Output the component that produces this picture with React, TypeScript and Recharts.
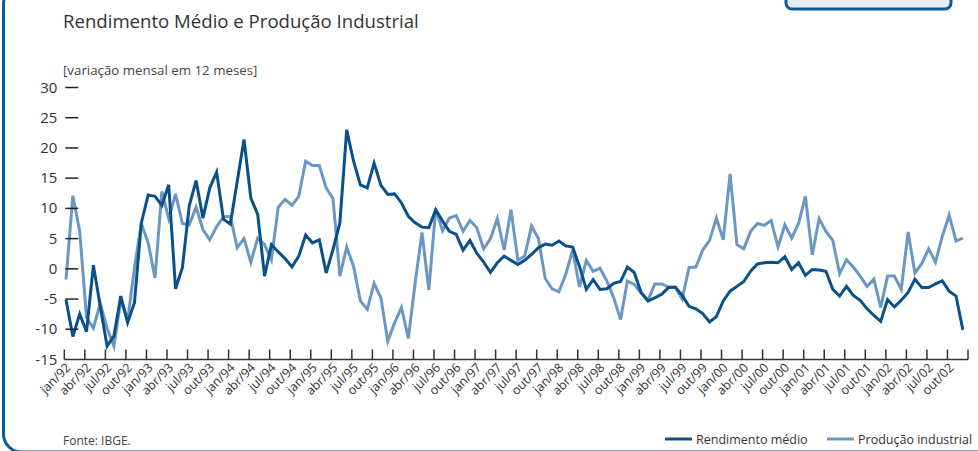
import React from 'react'
import { LineChart, Line, XAxis, YAxis } from 'recharts'

// monthly periods jan/92 .. dez/02
const years = ['92', '93', '94', '95', '96', '97', '98', '99', '00', '01', '02']
const monthNames = ['jan', 'fev', 'mar', 'abr', 'mai', 'jun', 'jul', 'ago', 'set', 'out', 'nov', 'dez']
const periods = years.flatMap((y) => monthNames.map((m) => `${m}/${y}`))

const tickLabels = [
  'jan/92', 'abr/92', 'jul/92', 'out/92', 'jan/93', 'abr/93', 'jul/93', 'out/93',
  'jan/94', 'abr/94', 'jul/94', 'out/94', 'jan/95', 'abr/95', 'jul/95', 'out/95',
  'jan/96', 'abr/96', 'jul/96', 'out/96', 'jan/97', 'abr/97', 'jul/97', 'out/97',
  'jan/98', 'abr/98', 'jul/98', 'out/98', 'jan/99', 'abr/99', 'jul/99', 'out/99',
  'jan/00', 'abr/00', 'jul/00', 'out/00', 'jan/01', 'abr/01', 'jul/01', 'out/01',
  'jan/02', 'abr/02', 'jul/02', 'out/02',
]

const yTicks = [-15, -10, -5, 0, 5, 10, 15, 20, 25, 30]

const rendimento = [
  -5.1, -11.2, -7.5, -10.4, 0.6, -6.2, -12.8, -11.1, -4.5, -8.9, -5.6, 7.6,
  12.2, 12.0, 10.5, 13.9, -3.3, 0.2, 10.4, 14.6, 8.4, 13.4, 16.0, 8.2,
  7.4, 14.4, 21.4, 11.7, 9.0, -1.2, 4.0, 2.8, 1.7, 0.3, 2.1, 5.6,
  4.3, 4.8, -0.7, 3.2, 7.6, 23.0, 17.8, 13.9, 13.4, 17.5, 13.8, 12.3,
  12.4, 10.9, 8.7, 7.6, 6.9, 6.8, 9.8, 7.9, 6.2, 5.7, 3.1, 4.7,
  2.6, 1.1, -0.6, 1.0, 2.1, 1.4, 0.7, 1.4, 2.4, 3.5, 4.1, 3.9,
  4.6, 3.8, 3.6, 0.4, -3.4, -1.8, -3.4, -3.3, -2.4, -2.1, 0.3, -0.6,
  -3.9, -5.3, -4.8, -4.2, -3.1, -3.0, -4.4, -6.2, -6.6, -7.4, -8.8, -7.9,
  -5.3, -3.7, -2.9, -2.1, -0.4, 0.8, 1.0, 1.1, 1.0, 2.0, -0.1, 1.0,
  -1.1, -0.1, -0.2, -0.4, -3.4, -4.5, -2.9, -4.4, -5.2, -6.6, -7.7, -8.7,
  -5.1, -6.3, -5.2, -3.9, -1.7, -3.1, -3.1, -2.5, -2.0, -3.7, -4.5, -10.1,
]

const producao = [
  -1.8, 12.1, 6.2, -8.1, -9.8, -5.7, -9.8, -12.8, -5.1, -8.6, 0.2, 7.5,
  4.3, -1.5, 12.8, 8.3, 12.4, 7.5, 7.3, 10.2, 6.5, 4.8, 7.0, 8.6,
  8.7, 3.5, 5.0, 1.1, 5.1, 4.0, 1.5, 10.2, 11.5, 10.5, 12.0, 17.8,
  17.1, 17.1, 13.4, 11.6, -1.2, 3.6, 0.4, -5.3, -6.7, -2.4, -4.8, -12.0,
  -8.9, -6.4, -11.5, -2.3, 6.0, -3.5, 9.9, 6.3, 8.4, 8.8, 6.2, 8.0,
  6.8, 3.3, 5.0, 8.3, 3.1, 9.8, 1.4, 2.1, 7.1, 5.0, -1.6, -3.3,
  -3.8, -0.9, 3.1, -3.0, 1.4, -0.4, 0.1, -2.0, -4.8, -8.4, -2.0, -2.6,
  -4.0, -5.2, -2.5, -2.5, -3.0, -3.1, -5.0, 0.2, 0.3, 3.1, 4.7, 8.4,
  4.8, 15.7, 4.0, 3.3, 6.2, 7.5, 7.2, 8.0, 3.6, 7.3, 5.1, 7.5,
  12.0, 2.3, 8.3, 6.2, 4.7, -0.8, 1.5, 0.3, -1.2, -2.9, -1.7, -6.4,
  -1.2, -1.2, -3.4, 6.1, -0.7, 0.9, 3.3, 1.1, 5.4, 8.9, 4.6, 5.1,
]

const data = periods.map((p, i) => ({ idx: i, periodo: p, rendimento: rendimento[i], producao: producao[i] }))

// ticks sit a quarter month before each quarter's first point, plus one closing tick
const xTicks = [...tickLabels.map((_, k) => k * 3 - 0.25), tickLabels.length * 3 - 0.25]

const DARK = '#0b5189'
const LIGHT = '#6b97c5'
const FRAME = '#0d5a96'
const FONT = '"Open Sans", Roboto, sans-serif'

const legendItems = [
  { label: 'Rendimento médio', color: DARK, x: 665 },
  { label: 'Produção industrial', color: LIGHT, x: 827 },
]

const XTick = (props: any) => {
  const { x, y, payload } = props
  const k = Math.round((payload.value + 0.25) / 3)
  const label = tickLabels[k]
  return (
    <g>
      <line x1={x} x2={x} y1={y} y2={y - 10} stroke="#333" strokeWidth={1.5} />
      {label && (
        <text
          x={x + 7}
          y={y + 9}
          textAnchor="end"
          transform={`rotate(-45 ${x + 7} ${y + 9})`}
          fontSize={12.5}
          fill="#333"
          fontFamily={FONT}
        >
          {label}
        </text>
      )}
    </g>
  )
}

const YTick = (props: any) => {
  const { x, y, payload } = props
  return (
    <g>
      {payload.value !== -15 && (
        <line x1={x + 1} x2={x + 14} y1={y} y2={y} stroke="#222" strokeWidth={1.5} />
      )}
      <text x={x - 7} y={y + 5} textAnchor="end" fontSize={15} fill="#333" fontFamily={FONT}>
        {payload.value}
      </text>
    </g>
  )
}

export default function App() {
  return (
    <div style={{ position: 'absolute', left: 0, top: 0, width: 978, height: 451, background: '#fff', overflow: 'hidden' }}>
      <svg width={978} height={451} style={{ position: 'absolute', left: 0, top: 0 }}>
        <rect x={3.5} y={-14} width={1000} height={466} rx={18} fill="none" stroke={FRAME} strokeWidth={3} />
        <rect x={786} y={-12} width={165} height={21} rx={6} fill="#e8ecf5" stroke={FRAME} strokeWidth={3} />
        <text x={63} y={28} fontSize={18.6} fill="#333" fontFamily={FONT}>
          Rendimento Médio e Produção Industrial
        </text>
        <text x={63} y={75} fontSize={13.3} fill="#444" fontFamily={FONT}>
          [variação mensal em 12 meses]
        </text>
        <text x={63} y={445} fontSize={12} fill="#444" fontFamily={FONT}>
          Fonte: IBGE.
        </text>
        {legendItems.map((it) => (
          <g key={it.label}>
            <line x1={it.x} x2={it.x + 27} y1={439} y2={439} stroke={it.color} strokeWidth={3} />
            <text x={it.x + 31} y={444} fontSize={12.5} fill="#333" fontFamily={FONT}>
              {it.label}
            </text>
          </g>
        ))}
      </svg>
      <div style={{ position: 'absolute', left: 0, top: 0 }}>
        <LineChart
          width={978}
          height={451}
          data={data}
          margin={{ top: 87.5, right: 10, bottom: 61.5, left: 24.3 }}
        >
          <XAxis
            dataKey="idx"
            type="number"
            domain={[-0.25, 131.75]}
            ticks={xTicks}
            interval={0}
            height={30}
            tickSize={0}
            tickMargin={0}
            tickLine={false}
            axisLine={{ stroke: '#333', strokeWidth: 1.5 }}
            tick={<XTick />}
          />
          <YAxis
            domain={[-15, 30]}
            ticks={yTicks}
            interval={0}
            width={40}
            tickSize={0}
            tickMargin={0}
            axisLine={false}
            tickLine={false}
            tick={<YTick />}
          />
          <Line
            type="linear"
            dataKey="producao"
            name="Produção industrial"
            stroke={LIGHT}
            strokeWidth={3}
            dot={false}
            isAnimationActive={false}
          />
          <Line
            type="linear"
            dataKey="rendimento"
            name="Rendimento médio"
            stroke={DARK}
            strokeWidth={3}
            dot={false}
            isAnimationActive={false}
          />
        </LineChart>
      </div>
    </div>
  )
}
